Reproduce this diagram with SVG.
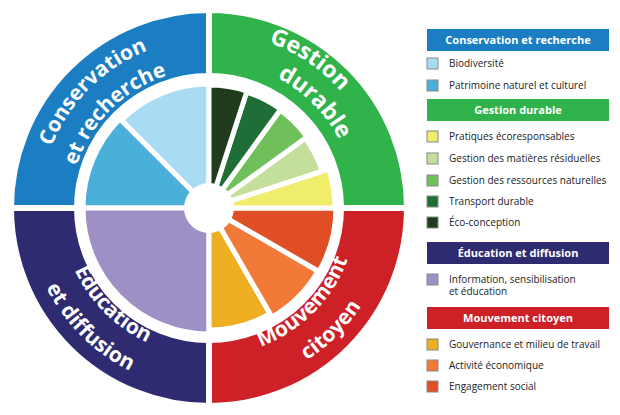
<svg xmlns="http://www.w3.org/2000/svg" xmlns:xlink="http://www.w3.org/1999/xlink" width="620" height="415" viewBox="0 0 620 415">
<style>
.w{stroke:#fff;stroke-width:5;stroke-linejoin:miter}
.r{stroke:#fff;stroke-width:6}
.rt{font-family:"Open Sans","Liberation Sans",sans-serif;font-weight:700;font-size:21px;fill:#fff}
.hd{font-family:"Open Sans","Liberation Sans",sans-serif;font-weight:700;font-size:11px;fill:#fff;text-anchor:middle}
.it{font-family:"Open Sans","Liberation Sans",sans-serif;font-size:10px;fill:#222}
.sq{stroke:#888;stroke-width:1}
</style>
<defs>
<path id="pc1" d="M40,208 A169 169 0 0 1 209,39"/>
<path id="pc2" d="M70,208 A139 139 0 0 1 209,69"/>
<path id="pg1" d="M209,32 A176 176 0 0 1 385,208"/>
<path id="pg2" d="M209,61 A147 147 0 0 1 356,208"/>
<path id="pe1" d="M61,208 A148 148 0 0 0 209,356"/>
<path id="pe2" d="M28,208 A181 181 0 0 0 209,389"/>
<path id="pm1" d="M209,356 A148 148 0 0 0 357,208"/>
<path id="pm2" d="M209,389 A181 181 0 0 0 390,208"/>
</defs>
<rect width="620" height="415" fill="#fff"/>
<g id="ring">
<path class="r" fill="#1b7ec2" d="M11,208 A198 198 0 0 1 209,10 L209,76 A132 132 0 0 0 77,208 Z"/>
<path class="r" fill="#2fb34a" d="M209,10 A198 198 0 0 1 407,208 L341,208 A132 132 0 0 0 209,76 Z"/>
<path class="r" fill="#cd2027" d="M407,208 A198 198 0 0 1 209,406 L209,340 A132 132 0 0 0 341,208 Z"/>
<path class="r" fill="#2f2b71" d="M209,406 A198 198 0 0 1 11,208 L77,208 A132 132 0 0 0 209,340 Z"/>
</g>
<g id="ring-labels" class="rt">
<text><textPath xlink:href="#pc1" href="#pc1" startOffset="50%" text-anchor="middle">Conservation</textPath></text>
<text><textPath xlink:href="#pc2" href="#pc2" startOffset="50%" text-anchor="middle">et recherche</textPath></text>
<text font-size="23"><textPath xlink:href="#pg1" href="#pg1" startOffset="38%" text-anchor="middle">Gestion</textPath></text>
<text font-size="23"><textPath xlink:href="#pg2" href="#pg2" startOffset="50%" text-anchor="middle">durable</textPath></text>
<text><textPath xlink:href="#pe1" href="#pe1" startOffset="50%" text-anchor="middle">Éducation</textPath></text>
<text><textPath xlink:href="#pe2" href="#pe2" startOffset="50%" text-anchor="middle">et diffusion</textPath></text>
<text><textPath xlink:href="#pm1" href="#pm1" startOffset="50%" text-anchor="middle">Mouvement</textPath></text>
<text><textPath xlink:href="#pm2" href="#pm2" startOffset="50%" text-anchor="middle">citoyen</textPath></text>
</g>
<g id="pie">
<path class="w" fill="#a9dcf3" d="M209,208 L209,84 A124 124 0 0 0 121.3,120.3 Z"/>
<path class="w" fill="#4ab0d9" d="M209,208 L119.9,118.9 A126 126 0 0 0 83,208 Z"/>
<path class="w" fill="#9e8fc5" d="M209,208 L83,208 A126 126 0 0 0 209,334 Z"/>
<path class="w" fill="#eeae21" d="M209,208 L209,330 A122 122 0 0 0 270,313.7 Z"/>
<path class="w" fill="#f27937" d="M209,208 L272,317.1 A126 126 0 0 0 318.1,271 Z"/>
<path class="w" fill="#e04e26" d="M209,208 L319,271.5 A127 127 0 0 0 336,208 Z"/>
<path class="w" fill="#f0ec6c" d="M209,208 L335,208 A126 126 0 0 0 328.8,169.1 Z"/>
<path class="w" fill="#c4df9b" d="M209,208 L322.2,171.2 A119 119 0 0 0 305.3,138.1 Z"/>
<path class="w" fill="#6fbf5b" d="M209,208 L306.9,136.9 A121 121 0 0 0 280.1,110.1 Z"/>
<path class="w" fill="#206e37" d="M209,208 L280.7,109.3 A122 122 0 0 0 246.7,92 Z"/>
<path class="w" fill="#1f3b1c" d="M209,208 L247,91 A123 123 0 0 0 209,85 Z"/>
<circle cx="209" cy="208" r="25" fill="#fff"/>
</g>
<g id="legend">
<rect x="427" y="29" width="182" height="22" fill="#1b7ec2"/><text class="hd" x="518" y="44">Conservation et recherche</text>
<rect class="sq" x="427" y="58" width="11" height="11" fill="#a9dcf3"/><text class="it" x="449" y="67">Biodiversité</text>
<rect class="sq" x="427" y="80" width="11" height="11" fill="#4ab0d9"/><text class="it" x="449" y="89">Patrimoine naturel et culturel</text>
<rect x="427" y="99" width="182" height="22" fill="#2fb34a"/><text class="hd" x="518" y="114">Gestion durable</text>
<rect class="sq" x="427" y="131" width="11" height="11" fill="#f0ec6c"/><text class="it" x="449" y="140">Pratiques écoresponsables</text>
<rect class="sq" x="427" y="153" width="11" height="11" fill="#c4df9b"/><text class="it" x="449" y="162">Gestion des matières résiduelles</text>
<rect class="sq" x="427" y="175" width="11" height="11" fill="#6fbf5b"/><text class="it" x="449" y="184">Gestion des ressources naturelles</text>
<rect class="sq" x="427" y="196" width="11" height="11" fill="#206e37"/><text class="it" x="449" y="205">Transport durable</text>
<rect class="sq" x="427" y="217" width="11" height="11" fill="#1f3b1c"/><text class="it" x="449" y="226">Éco-conception</text>
<rect x="427" y="242" width="182" height="22" fill="#2f2b71"/><text class="hd" x="518" y="257">Éducation et diffusion</text>
<rect class="sq" x="427" y="274" width="11" height="11" fill="#9e8fc5"/><text class="it" x="449" y="283">Information, sensibilisation</text><text class="it" x="449" y="295">et éducation</text>
<rect x="427" y="307" width="182" height="22" fill="#cd2027"/><text class="hd" x="518" y="322">Mouvement citoyen</text>
<rect class="sq" x="427" y="339" width="11" height="11" fill="#eeae21"/><text class="it" x="449" y="348">Gouvernance et milieu de travail</text>
<rect class="sq" x="427" y="360" width="11" height="11" fill="#f27937"/><text class="it" x="449" y="369">Activité économique</text>
<rect class="sq" x="427" y="381" width="11" height="11" fill="#e04e26"/><text class="it" x="449" y="390">Engagement social</text>
</g>
</svg>
